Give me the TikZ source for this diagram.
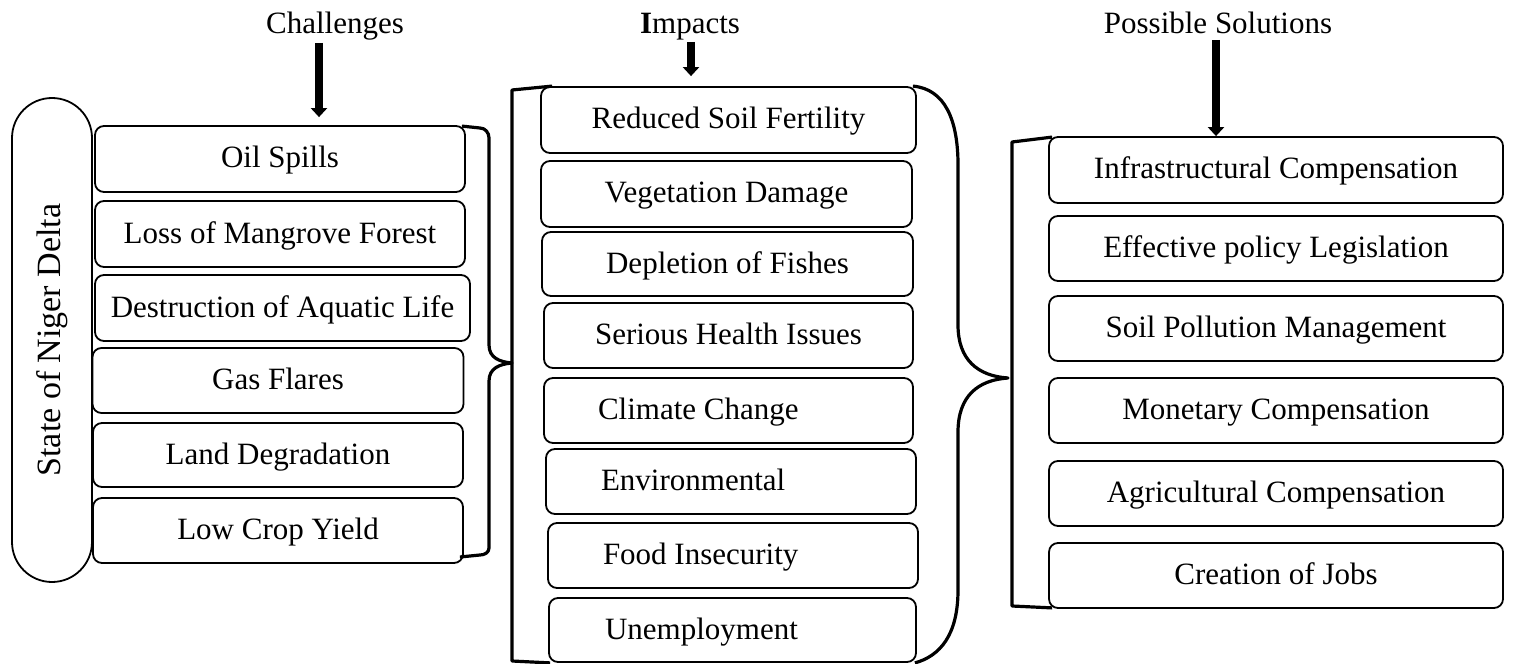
\documentclass[tikz,border=0pt]{standalone}
\usepackage{fontspec}
\setmainfont{Liberation Serif}
\usetikzlibrary{arrows.meta}
\begin{document}
\begin{tikzpicture}[x=0.5pt,y=-0.5pt,
  box/.style={draw, line width=0.9pt, rounded corners=4.5pt, inner sep=0pt,
    text height=12pt, text depth=3pt, font=\fontsize{15.5}{18}\selectfont},
  title/.style={inner sep=0pt, anchor=base, font=\fontsize{15.5}{18}\selectfont},
  bigarrow/.style={line width=3.6pt, -{Triangle[width=8pt,length=4.5pt]}},
  brace/.style={line width=1.6pt, line join=round}]
\useasboundingbox (0,0) rectangle (1518,663);

% titles
\node[title] (t1) at (335,34) {Challenges};
\node[title] (t2) at (690,34) {\textbf{I}mpacts};
\node[title] (t3) at (1218,34) {Possible Solutions};

% state pill
\node[draw, line width=0.9pt, rounded corners=20pt, rotate=90, minimum width=242pt,
  minimum height=40pt, inner sep=0pt, font=\fontsize{17}{20}\selectfont]
  (nd) at (52,340) {State of Niger Delta};

% challenges
\node[box, minimum width=185pt, minimum height=33pt] (c1) at (280,159) {Oil Spills};
\node[box, minimum width=185pt, minimum height=33pt] (c2) at (280,234) {Loss of Mangrove Forest};
\node[box, minimum width=187.5pt, minimum height=33pt] (c3) at (282.5,308) {Destruction of Aquatic Life};
\node[box, minimum width=185.5pt, minimum height=32.5pt] (c4) at (278,380.5) {Gas Flares};
\node[box, minimum width=185pt, minimum height=32pt] (c5) at (278,455) {Land Degradation};
\node[box, minimum width=185pt, minimum height=32.5pt] (c6) at (278,530.5) {Low Crop Yield};

% impacts
\node[box, minimum width=187.5pt, minimum height=33pt] (i1) at (728.5,120) {Reduced Soil Fertility};
\node[box, minimum width=185.5pt, minimum height=33pt] (i2) at (726.5,194) {Vegetation Damage};
\node[box, minimum width=185.5pt, minimum height=32pt] (i3) at (727.5,264) {Depletion of Fishes};
\node[box, minimum width=184.5pt, minimum height=32.5pt] (i4) at (728.5,335.5) {Serious Health Issues};
\node[box, minimum width=184.5pt, minimum height=32.5pt] (i5) at (728.5,410.5)
  {\makebox[184.5pt][l]{\hspace{27pt}Climate Change}};
\node[box, minimum width=185pt, minimum height=32.5pt] (i6) at (731,481.5)
  {\makebox[185pt][l]{\hspace{27.5pt}Environmental}};
\node[box, minimum width=185pt, minimum height=32.5pt] (i7) at (733,555.5)
  {\makebox[185pt][l]{\hspace{27.5pt}Food Insecurity}};
\node[box, minimum width=183.5pt, minimum height=32pt] (i8) at (732.5,630)
  {\makebox[183.5pt][l]{\hspace{28pt}Unemployment}};

% solutions
\node[box, minimum width=227pt, minimum height=33pt] (s1) at (1276,170) {Infrastructural Compensation};
\node[box, minimum width=227pt, minimum height=32.5pt] (s2) at (1276,248.5) {Effective policy Legislation};
\node[box, minimum width=227pt, minimum height=32.5pt] (s3) at (1276,328.5) {Soil Pollution Management};
\node[box, minimum width=227pt, minimum height=32.5pt] (s4) at (1276,410.5) {Monetary Compensation};
\node[box, minimum width=227pt, minimum height=32.5pt] (s5) at (1276,493.5) {Agricultural Compensation};
\node[box, minimum width=227pt, minimum height=32.5pt] (s6) at (1276,575.5) {Creation of Jobs};

% arrows
\draw[bigarrow] ([xshift=-8pt,yshift=-4.5pt]t1.base) -- ([xshift=-8pt,yshift=4pt]t1.base |- c1.north);
\draw[bigarrow] ([xshift=0.5pt,yshift=-4pt]t2.base) -- ([xshift=0.5pt,yshift=5pt]t2.base |- i1.north);
\draw[bigarrow] ([xshift=-1pt,yshift=-3pt]t3.base) -- ([xshift=-1pt]t3.base |- s1.north);

% brace challenges -> impacts
\coordinate (b1tip) at (512,363);
\draw[brace] (c1.north east) ++(-4,1) -- (480,128) to[out=0,in=90] (489,138)
  -- (489,345) .. controls (489,358) and (500,362) .. (b1tip)
  .. controls (500,364) and (489,368) .. (489,381)
  -- (489,548) to[out=-90,in=0] (480,555) -- ([xshift=-2pt]c6.south east |- 0,557);

% impacts left bracket
\draw[brace] ([xshift=6pt]i1.north west) -- (512,90) -- (512,661) -- ([xshift=1pt]i8.south west);

% impacts right brace
\coordinate (b2tip) at (1008,378);
\draw[brace] ([xshift=-2pt]i1.north east) .. controls (945,89) and (958,120) .. (958,165)
  -- (958,325) .. controls (958,360) and (978,376) .. (b2tip)
  .. controls (978,380) and (958,396) .. (958,432)
  -- (958,590) .. controls (958,635) and (940,656) .. ([xshift=-1pt]i8.south east);

% solutions bracket
\draw[brace] ([xshift=2pt,yshift=-0.5pt]s1.north west) -- (1012,142) -- (1012,606) -- ([xshift=2pt,yshift=0.5pt]s6.south west);
\end{tikzpicture}
\end{document}
